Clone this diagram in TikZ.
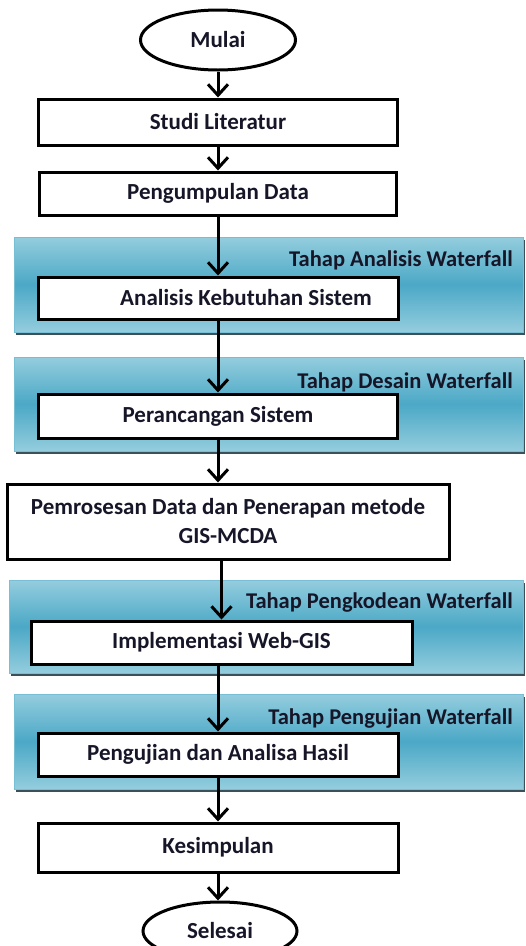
\documentclass[tikz,border=0pt]{standalone}
\usepackage{fontspec}
\setmainfont{Carlito}
\usetikzlibrary{arrows.meta,shapes.geometric}

\definecolor{bandtop}{RGB}{148,205,222}
\definecolor{bandmid}{RGB}{75,168,198}
\definecolor{bandedge}{RGB}{120,190,212}
\definecolor{bandshadow}{RGB}{60,80,90}
\definecolor{ink}{RGB}{22,22,40}

\tikzset{
  stepbox/.style={draw, line width=3pt, fill=white, rectangle, inner sep=0pt,
    text=ink, font=\fontsize{23}{29}\selectfont\bfseries},
  terminal/.style={draw, line width=3pt, fill=white, ellipse, inner sep=0pt,
    text=ink, font=\fontsize{23}{29}\selectfont\bfseries},
  band/.style={draw=bandedge, line width=1pt, inner sep=0pt,
    top color=bandtop, bottom color=bandtop, middle color=bandmid},
  shade/.style={fill=bandshadow, inner sep=0pt},
  phase/.style={anchor=east, inner sep=0pt, text=ink,
    font=\fontsize{22.5}{27}\selectfont\bfseries},
  flow/.style={line width=3pt, -{Straight Barb[length=11pt,width=20pt,line width=3pt]}}
}

\begin{document}
\begin{tikzpicture}[x=1pt, y=-1pt]
\useasboundingbox (0,0) rectangle (526,946);
\clip (0,0) rectangle (526,946);

% waterfall bands
\node[shade, minimum width=509pt, minimum height=95pt] (shA) at (270,287) {};
\node[band,  minimum width=509pt, minimum height=95pt] (bandA) at (268.5,284.5) {};
\node[shade, minimum width=509pt, minimum height=94pt] (shB) at (270,406.5) {};
\node[band,  minimum width=509pt, minimum height=94pt] (bandB) at (268.5,404) {};
\node[shade, minimum width=514pt, minimum height=93pt] (shC) at (267.5,629) {};
\node[band,  minimum width=514pt, minimum height=93pt] (bandC) at (266,626.5) {};
\node[shade, minimum width=509pt, minimum height=95pt] (shD) at (270,744) {};
\node[band,  minimum width=509pt, minimum height=95pt] (bandD) at (268.5,741.5) {};

\node[phase] (labA) at (513,260) {Tahap Analisis Waterfall};
\node[phase] (labB) at (513,382) {Tahap Desain Waterfall};
\node[phase] (labC) at (513,603) {Tahap Pengkodean Waterfall};
\node[phase] (labD) at (513,719) {Tahap Pengujian Waterfall};

% steps
\node[terminal, minimum width=155pt, minimum height=60pt] (mulai) at (218,40) {Mulai};
\node[stepbox, minimum width=359pt, minimum height=46pt] (studi) at (218,122) {Studi Literatur};
\node[stepbox, minimum width=357pt, minimum height=43pt] (data) at (218,193.5) {Pengumpulan Data};
\node[stepbox, minimum width=360pt, minimum height=42pt] (analisis) at (218,298) {\hspace*{56pt}Analisis Kebutuhan Sistem};
\node[stepbox, minimum width=359pt, minimum height=44pt] (rancang) at (218,416) {Perancangan Sistem};
\node[stepbox, minimum width=442pt, minimum height=75pt, align=center] (proses) at (228,521.5)
  {Pemrosesan Data dan Penerapan metode\\GIS-MCDA};
\node[stepbox, minimum width=381pt, minimum height=43pt] (implement) at (221.5,642.5) {Implementasi Web-GIS};
\node[stepbox, minimum width=360pt, minimum height=43pt] (uji) at (218,754.5) {Pengujian dan Analisa Hasil};
\node[stepbox, minimum width=360pt, minimum height=49pt] (simpul) at (218,847.5) {Kesimpulan};
\node[terminal, minimum width=154pt, minimum height=58pt] (selesai) at (220,931) {Selesai};

\path[flow]
(mulai)    edge (studi)
(studi)    edge (data)
(data)     edge (analisis)
(analisis) edge (rancang)
(rancang)  edge (rancang |- proses.north)
(proses.south -| implement) edge (implement)
(implement.south -| uji) edge (uji)
(uji)      edge (simpul)
(simpul)   edge (simpul |- selesai.north);
\end{tikzpicture}
\end{document}
